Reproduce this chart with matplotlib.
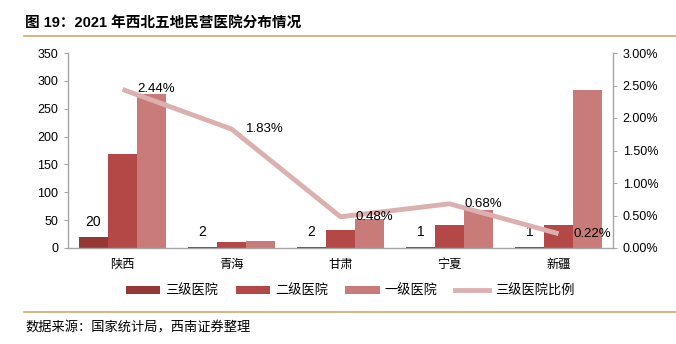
import matplotlib
matplotlib.use("Agg")
import matplotlib.pyplot as plt
import numpy as np
from matplotlib.ticker import FuncFormatter, MultipleLocator
from matplotlib.lines import Line2D

plt.rcParams['font.family'] = ['Liberation Sans', 'Noto Sans CJK SC', 'DejaVu Sans']

categories = ['陕西', '青海', '甘肃', '宁夏', '新疆']
tier3 = [20, 2, 2, 1, 1]
tier2 = [169, 11, 33, 42, 42]
tier1 = [277, 13, 52, 68, 284]
tier3_ratio = [2.44, 1.83, 0.48, 0.68, 0.22]
series_names = ['三级医院', '二级医院', '一级医院', '三级医院比例']

c3 = '#953735'
c2 = '#B34846'
c1 = '#C97B7A'
cl = '#DDB0B0'
axis_gray = '#A6A6A6'

fig = plt.figure(figsize=(6.76, 3.44), dpi=100)
ax = fig.add_axes([68/676, 1-248/344, (613-68)/676, (248-53)/344])
ax2 = ax.twinx()
ax.set_zorder(ax2.get_zorder()-1)
ax.patch.set_visible(False)

x = np.arange(len(categories))
w = 0.266
b3 = ax.bar(x - w, tier3, w, color=c3, label=series_names[0])
b2 = ax.bar(x, tier2, w, color=c2, label=series_names[1])
b1 = ax.bar(x + w, tier1, w, color=c1, label=series_names[2])

for xi, v in zip(x, tier3):
    ax.annotate(str(v), (xi - w, v), xytext=(0, 6), textcoords='offset points',
                ha='center', va='bottom', fontsize=10, color='black')

ax.set_xlim(-0.5, 4.5)
ax.set_ylim(0, 350)
ax.yaxis.set_major_locator(MultipleLocator(50))
ax.set_xticks(x)
ax.set_xticklabels(categories, fontsize=8.8, family=['Noto Sans CJK SC'])
ax.tick_params(axis='x', length=0, pad=7)
ax.tick_params(axis='y', labelsize=9, length=3, color=axis_gray, pad=4)

ln, = ax2.plot(x, tier3_ratio, color=cl, lw=3.5, solid_capstyle='butt', label=series_names[3])
for xi, v in zip(x, tier3_ratio):
    ax2.annotate(f'{v:.2f}%', (xi, v), xytext=(24, 0), textcoords='offset points',
                 ha='center', va='center', fontsize=9.5, color='black')
ax2.set_ylim(0, 3.0)
ax2.yaxis.set_major_locator(MultipleLocator(0.5))
ax2.yaxis.set_major_formatter(FuncFormatter(lambda v, p: f'{v:.2f}%'))
ax2.tick_params(axis='y', labelsize=9, length=3, color=axis_gray, pad=4)

for a in (ax, ax2):
    a.spines['top'].set_visible(False)
    for s in ('left', 'right', 'bottom'):
        a.spines[s].set_color(axis_gray)
        a.spines[s].set_linewidth(1.0)
ax.spines['right'].set_visible(False)
ax2.spines['left'].set_visible(False)
ax2.spines['bottom'].set_visible(False)

handles = [b3, b2, b1, Line2D([0], [0], color=cl, lw=3.5)]
fig.legend(handles, series_names, loc='center', bbox_to_anchor=(350/676, 1-291/344),
           ncol=4, frameon=False, prop={'family': ['Noto Sans CJK SC'], 'size': 9.5},
           handlelength=2.6, handleheight=0.6, columnspacing=1.3, handletextpad=0.4)

fig.text(25/676, 1-23/344, '图 19：2021 年西北五地民营医院分布情况', fontsize=10.5,
         fontweight='bold', ha='left', va='center',
         family=['Liberation Sans', 'Noto Sans CJK SC'])
fig.add_artist(Line2D([24/676, 1], [1-36/344, 1-36/344], color='#D4A76A', lw=1.2))
fig.add_artist(Line2D([24/676, 1], [1-312/344, 1-312/344], color='#D4A76A', lw=1.2))
fig.text(25/676, 1-328/344, '数据来源：国家统计局，西南证券整理', fontsize=9.5,
         style='italic', ha='left', va='center', family=['Noto Sans CJK SC'])

fig.savefig('out.png', dpi=100)
